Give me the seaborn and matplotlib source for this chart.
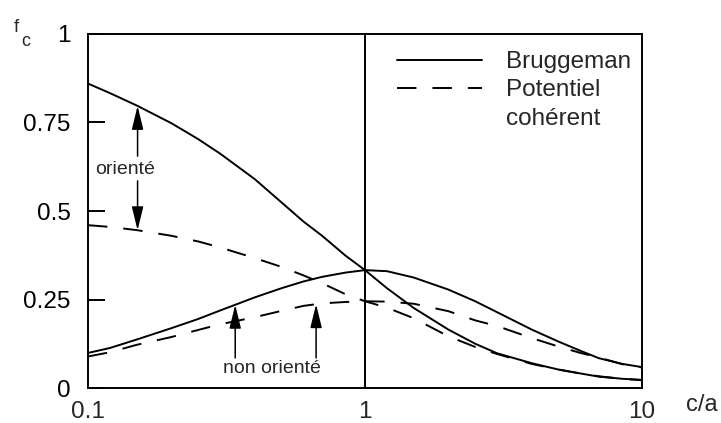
import numpy as np
import pandas as pd
import seaborn as sns
import matplotlib
matplotlib.use("Agg")
import matplotlib.pyplot as plt
from matplotlib.lines import Line2D

# aspect ratio c/a (log axis)
ratio = [0.1, 0.12, 0.15, 0.2, 0.25, 0.3, 0.4, 0.5, 0.6, 0.7, 0.85, 1.0,
         1.2, 1.5, 2.0, 2.5, 3.0, 4.0, 5.0, 6.0, 7.0, 8.5, 10.0]

# percolation threshold f_c
bruggeman_oriente = [0.860, 0.833, 0.798, 0.748, 0.703, 0.662, 0.590, 0.524, 0.470,
                     0.430, 0.374, 0.333, 0.282, 0.226, 0.165, 0.125, 0.098, 0.070,
                     0.052, 0.041, 0.032, 0.026, 0.023]
potentiel_oriente = [0.460, 0.455, 0.446, 0.430, 0.414, 0.397, 0.367, 0.342, 0.318,
                     0.296, 0.265, 0.245, 0.227, 0.197, 0.146, 0.116, 0.096, 0.068,
                     0.052, 0.041, 0.033, 0.026, 0.022]
bruggeman_non_oriente = [0.099, 0.113, 0.137, 0.169, 0.195, 0.219, 0.256, 0.282, 0.301,
                         0.314, 0.326, 0.333, 0.330, 0.312, 0.278, 0.245, 0.214, 0.165,
                         0.131, 0.105, 0.084, 0.068, 0.059]
potentiel_non_oriente = [0.089, 0.101, 0.122, 0.144, 0.164, 0.180, 0.200, 0.218, 0.232,
                         0.239, 0.243, 0.245, 0.244, 0.238, 0.217, 0.191, 0.175, 0.141,
                         0.117, 0.099, 0.086, 0.067, 0.058]

x_ticks = [0.1, 1, 10]
x_tick_labels = ["0.1", "1", "10"]
y_ticks = [0, 0.25, 0.5, 0.75, 1]
y_tick_labels = ["0", "0.25", "0.5", "0.75", "1"]

sns.set_theme(style="white")
plt.rcParams["font.family"] = ["Liberation Sans", "DejaVu Sans"]
plt.rcParams["lines.scale_dashes"] = False

LW = 1.4
DASH = (14, 11.5)

fig = plt.figure(figsize=(7.21, 4.23), dpi=100)
ax = fig.add_axes([88 / 721, 35 / 423, 554 / 721, 354 / 423])

df = pd.DataFrame({
    "ratio": ratio * 4,
    "fc": bruggeman_oriente + potentiel_oriente + bruggeman_non_oriente + potentiel_non_oriente,
    "curve": (["bo"] * len(ratio) + ["po"] * len(ratio)
              + ["bn"] * len(ratio) + ["pn"] * len(ratio)),
    "model": (["Bruggeman"] * len(ratio) + ["Potentiel"] * len(ratio)
              + ["Bruggeman"] * len(ratio) + ["Potentiel"] * len(ratio)),
})

sns.lineplot(data=df, x="ratio", y="fc", units="curve", estimator=None,
             style="model", dashes={"Bruggeman": "", "Potentiel": DASH},
             color="black", linewidth=LW, legend=False, ax=ax, sort=False)

ax.axvline(1.0, color="black", lw=LW)

ax.set_xscale("log")
ax.set_xlim(0.1, 10)
ax.set_ylim(0, 1)
ax.set_xticks(x_ticks)
ax.set_xticklabels(x_tick_labels)
ax.minorticks_off()
ax.set_yticks(y_ticks)
ax.set_yticklabels(y_tick_labels)
ax.tick_params(axis="x", length=0, pad=9, labelsize=17.5)
ax.tick_params(axis="y", direction="in", length=12, width=LW, pad=12.5,
               labelsize=17.5, left=True, colors="black")
ax.set_xlabel("")
ax.set_ylabel("")
for s in ax.spines.values():
    s.set_color("black")
    s.set_linewidth(LW)

# axis titles
fig.text(16 / 721, 1 - 27 / 423, "f", fontsize=13.5, ha="center", va="center")
fig.text(26 / 721, 1 - 42 / 423, "c", fontsize=13, ha="center", va="center")
fig.text(702 / 721, 1 - 405 / 423, "c/a", fontsize=17, ha="center", va="center")

# legend
handles = [Line2D([], [], color="black", lw=LW),
           Line2D([], [], color="black", lw=LW, dashes=DASH),
           Line2D([], [], color="none", lw=0)]
ax.legend(handles, ["Bruggeman", "Potentiel", "cohérent"], loc="upper left",
          bbox_to_anchor=((397 - 88) / 554, (388 - 51) / 354), frameon=False,
          fontsize=17.5, handlelength=3.5, handletextpad=1.0, labelspacing=0.26,
          borderpad=0, borderaxespad=0)

lr = np.log10(ratio)


def on_curve(x, ys):
    return float(np.interp(np.log10(x), lr, ys))


arrow = dict(arrowstyle="-|>,head_length=0.9,head_width=0.22", color="black",
             lw=1.1, shrinkA=0, shrinkB=0, mutation_scale=16)

# oriented pair
xo = 0.151
ax.annotate("", xy=(xo, on_curve(xo, bruggeman_oriente)), xytext=(xo, 0.655),
            arrowprops=arrow)
ax.annotate("", xy=(xo, on_curve(xo, potentiel_oriente)), xytext=(xo, 0.585),
            arrowprops=arrow)
ax.text(0.136, 0.616, "orienté", fontsize=14, ha="center", va="center")

# non-oriented pair
x1, x2 = 0.34, 0.666
ax.annotate("", xy=(x1, on_curve(x1, bruggeman_non_oriente)), xytext=(x1, 0.085),
            arrowprops=arrow)
ax.annotate("", xy=(x2, on_curve(x2, potentiel_non_oriente)), xytext=(x2, 0.085),
            arrowprops=arrow)
ax.text(0.461, 0.054, "non orienté", fontsize=14, ha="center", va="center")

fig.savefig("out.png", dpi=100)
